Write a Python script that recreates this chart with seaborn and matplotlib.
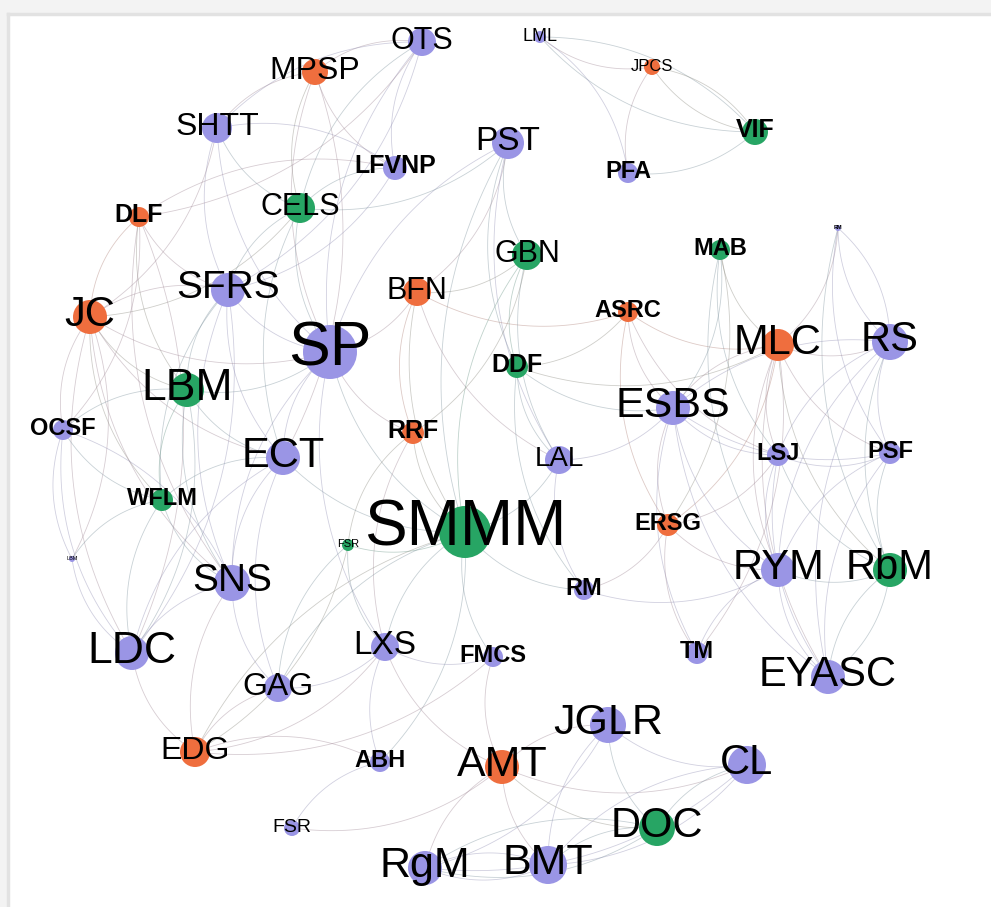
import numpy as np
import pandas as pd
import matplotlib.pyplot as plt
import seaborn as sns
from matplotlib.collections import LineCollection

# ---------------------------------------------------
# data: nodes (pixel layout of the network), groups, sizes, labels
# ---------------------------------------------------
names = ['OTS', 'MPSP', 'SHTT', 'LFVNP', 'CELS', 'DLF', 'SFRS', 'JC', 'SP', 'LBM',
         'OCSF', 'BFN', 'RRF', 'ECT', 'PST', 'LML', 'JPCS', 'VIF', 'PFA', 'GBN',
         'MAB', 'RM2', 'ASRC', 'MLC', 'RS', 'DDF', 'ESBS', 'LAL', 'SMMM', 'FSR2',
         'RM', 'ERSG', 'LSJ', 'PSF', 'RYM', 'RbM', 'TM', 'EYASC', 'WFLM', 'LBM2',
         'SNS', 'LDC', 'GAG', 'LXS', 'EDG', 'ABH', 'FSR', 'RgM', 'FMCS', 'AMT',
         'JGLR', 'CL', 'DOC', 'BMT']
labels = ['OTS', 'MPSP', 'SHTT', 'LFVNP', 'CELS', 'DLF', 'SFRS', 'JC', 'SP', 'LBM',
          'OCSF', 'BFN', 'RRF', 'ECT', 'PST', 'LML', 'JPCS', 'VIF', 'PFA', 'GBN',
          'MAB', 'RM', 'ASRC', 'MLC', 'RS', 'DDF', 'ESBS', 'LAL', 'SMMM', 'FSR',
          'RM', 'ERSG', 'LSJ', 'PSF', 'RYM', 'RbM', 'TM', 'EYASC', 'WFLM', 'LBM',
          'SNS', 'LDC', 'GAG', 'LXS', 'EDG', 'ABH', 'FSR', 'RgM', 'FMCS', 'AMT',
          'JGLR', 'CL', 'DOC', 'BMT']
xs = [422, 315, 217, 395, 300, 139, 228, 90, 330, 187,
      63, 417, 413, 283, 508, 540, 652, 755, 628, 527,
      720, 838, 628, 778, 890, 517, 673, 559, 465, 348,
      584, 668, 778, 890, 778, 890, 697, 828, 162, 72,
      232, 132, 278, 385, 195, 380, 292, 425, 493, 502,
      608, 747, 657, 548]
ys = [42, 72, 128, 168, 208, 217, 290, 317, 352, 390,
      430, 292, 433, 458, 143, 37, 67, 132, 173, 255,
      250, 228, 312, 345, 342, 367, 408, 460, 532, 545,
      590, 525, 455, 453, 570, 570, 653, 677, 500, 559,
      583, 653, 688, 647, 752, 762, 828, 868, 657, 767,
      725, 765, 828, 865]
groups = ['p', 'o', 'p', 'p', 'g', 'o', 'p', 'o', 'p', 'g',
          'p', 'o', 'o', 'p', 'p', 'p', 'o', 'g', 'p', 'g',
          'g', 'p', 'o', 'o', 'p', 'g', 'p', 'p', 'g', 'g',
          'p', 'o', 'p', 'p', 'p', 'g', 'p', 'p', 'g', 'p',
          'p', 'p', 'p', 'p', 'o', 'p', 'p', 'p', 'p', 'o',
          'p', 'p', 'g', 'p']
radius = [14, 13, 15, 12, 15, 10, 17, 17, 27, 17,
          10, 14, 11, 17, 16, 6, 8, 13, 10, 15,
          10, 3, 10, 16, 18, 11, 17, 14, 26, 6,
          10, 11, 11, 11, 17, 17, 11, 17, 11, 3,
          18, 17, 14, 14, 15, 10, 8, 17, 10, 17,
          18, 19, 18, 19]
font_size = [22, 23, 23, 18, 22, 18, 28, 30, 45, 32,
             17, 22, 18, 30, 24, 13, 12, 18, 17, 22,
             17, 4, 17, 30, 30, 18, 31, 20, 46, 8,
             17, 17, 17, 17, 30, 30, 17, 30, 17, 4,
             28, 32, 23, 24, 23, 17, 14, 31, 17, 31,
             31, 30, 30, 31]
bold_labels = ['LFVNP', 'DLF', 'OCSF', 'RRF', 'VIF', 'PFA', 'MAB', 'ASRC', 'DDF',
               'RM', 'ERSG', 'LSJ', 'PSF', 'TM', 'WFLM', 'ABH', 'FMCS']

edges = [
    ('OTS', 'MPSP'), ('OTS', 'SHTT'), ('OTS', 'CELS'), ('OTS', 'LFVNP'), ('OTS', 'SP'), ('SFRS', 'OTS'),
    ('MPSP', 'SHTT'), ('MPSP', 'CELS'), ('MPSP', 'SP'), ('ECT', 'MPSP'), ('MPSP', 'LFVNP'),
    ('SHTT', 'CELS'), ('SHTT', 'SFRS'), ('SHTT', 'SP'), ('LFVNP', 'SHTT'),
    ('LFVNP', 'CELS'), ('LFVNP', 'DLF'), ('SFRS', 'LFVNP'),
    ('CELS', 'SP'), ('CELS', 'SFRS'), ('CELS', 'ECT'), ('JC', 'CELS'),
    ('DLF', 'JC'), ('DLF', 'SFRS'), ('DLF', 'LBM'), ('OCSF', 'DLF'), ('DLF', 'SNS'),
    ('DLF', 'OTS'), ('JC', 'SHTT'), ('LDC', 'DLF'), ('LBM2', 'JC'),
    ('SFRS', 'JC'), ('SFRS', 'LBM'), ('SFRS', 'ECT'), ('SFRS', 'SNS'), ('LDC', 'SFRS'), ('SFRS', 'SP'), ('SFRS', 'WFLM'),
    ('JC', 'LBM'), ('JC', 'OCSF'), ('JC', 'ECT'), ('JC', 'WFLM'), ('JC', 'LDC'), ('JC', 'SNS'), ('JC', 'SP'),
    ('LBM', 'ECT'), ('LBM', 'OCSF'), ('LBM', 'WFLM'), ('LBM', 'SNS'), ('LDC', 'LBM'), ('LBM', 'SP'),
    ('OCSF', 'WFLM'), ('OCSF', 'LDC'), ('OCSF', 'LBM2'), ('SNS', 'OCSF'),
    ('ECT', 'SNS'), ('ECT', 'WFLM'), ('ECT', 'LDC'), ('SP', 'ECT'), ('ECT', 'GAG'),
    ('WFLM', 'SNS'), ('WFLM', 'LDC'), ('WFLM', 'LBM2'),
    ('SNS', 'LDC'), ('SNS', 'EDG'), ('SNS', 'GAG'),
    ('LBM2', 'LDC'), ('LDC', 'EDG'),
    ('SP', 'BFN'), ('SP', 'RRF'), ('SP', 'SMMM'), ('SP', 'LXS'), ('PST', 'SP'), ('SP', 'SNS'),
    ('PST', 'GBN'), ('PST', 'DDF'), ('BFN', 'PST'), ('PST', 'LAL'), ('PST', 'SMMM'), ('CELS', 'PST'),
    ('BFN', 'GBN'), ('BFN', 'RRF'), ('BFN', 'SMMM'), ('BFN', 'LAL'), ('BFN', 'ASRC'),
    ('GBN', 'DDF'), ('GBN', 'SMMM'), ('GBN', 'LAL'), ('RRF', 'GBN'),
    ('DDF', 'ASRC'), ('DDF', 'MLC'), ('DDF', 'LAL'), ('DDF', 'RM'), ('DDF', 'ESBS'),
    ('RRF', 'SMMM'), ('RRF', 'LXS'), ('RRF', 'FSR2'),
    ('SMMM', 'LAL'), ('FSR2', 'SMMM'), ('SMMM', 'LXS'), ('SMMM', 'GAG'), ('SMMM', 'EDG'),
    ('ABH', 'SMMM'), ('SMMM', 'FMCS'), ('SMMM', 'RM'), ('ECT', 'SMMM'),
    ('LAL', 'RM'), ('LAL', 'ESBS'),
    ('ASRC', 'MLC'), ('ASRC', 'ESBS'), ('ASRC', 'LSJ'), ('ASRC', 'ERSG'),
    ('MAB', 'MLC'), ('ESBS', 'MAB'), ('MAB', 'RYM'), ('MAB', 'LSJ'), ('ERSG', 'MAB'),
    ('MLC', 'RM2'), ('RM2', 'RS'), ('RM2', 'RbM'), ('RM2', 'PSF'), ('RS', 'RM2'),
    ('MLC', 'RS'), ('MLC', 'ESBS'), ('MLC', 'LSJ'), ('MLC', 'PSF'), ('MLC', 'RYM'), ('MLC', 'RbM'),
    ('MLC', 'EYASC'), ('ERSG', 'MLC'),
    ('RS', 'ESBS'), ('RS', 'LSJ'), ('RS', 'PSF'), ('RS', 'RYM'), ('RS', 'RbM'), ('RS', 'EYASC'),
    ('ESBS', 'LSJ'), ('ESBS', 'PSF'), ('ESBS', 'RYM'), ('ESBS', 'ERSG'), ('ESBS', 'TM'), ('ESBS', 'EYASC'),
    ('LSJ', 'PSF'), ('LSJ', 'RYM'), ('LSJ', 'RbM'), ('LSJ', 'EYASC'), ('ERSG', 'LSJ'),
    ('PSF', 'RYM'), ('PSF', 'RbM'), ('PSF', 'EYASC'),
    ('RYM', 'RbM'), ('RYM', 'EYASC'), ('RM', 'RYM'), ('RYM', 'TM'),
    ('RbM', 'EYASC'), ('EYASC', 'RbM'),
    ('ERSG', 'TM'), ('RM', 'ERSG'), ('ERSG', 'RYM'), ('TM', 'MLC'),
    ('GAG', 'LXS'), ('GAG', 'EDG'), ('EDG', 'LXS'), ('EDG', 'FMCS'), ('LXS', 'ABH'), ('LXS', 'FMCS'),
    ('ABH', 'FSR'), ('FSR2', 'LXS'), ('FSR2', 'GAG'), ('FMCS', 'AMT'), ('FSR', 'AMT'), ('LXS', 'AMT'),
    ('EDG', 'FSR2'), ('ABH', 'EDG'),
    ('JGLR', 'AMT'), ('JGLR', 'CL'), ('JGLR', 'DOC'), ('RgM', 'JGLR'), ('JGLR', 'BMT'),
    ('AMT', 'CL'), ('AMT', 'DOC'), ('AMT', 'RgM'), ('AMT', 'BMT'),
    ('CL', 'DOC'), ('RgM', 'CL'), ('BMT', 'CL'), ('CL', 'BMT'),
    ('DOC', 'RgM'), ('DOC', 'BMT'), ('RgM', 'BMT'), ('BMT', 'RgM'), ('RgM', 'DOC'),
    ('LML', 'JPCS'), ('LML', 'VIF'), ('VIF', 'LML'), ('JPCS', 'VIF'), ('JPCS', 'PFA'),
    ('PFA', 'LML'), ('PFA', 'VIF'), ('VIF', 'JPCS'),
]

palette = {'p': '#9a95e5', 'o': '#ef6e3e', 'g': '#27a564'}

# ---------------------------------------------------
# figure
# ---------------------------------------------------
sns.set_theme(style='white')
plt.rcParams['font.family'] = ['Liberation Sans', 'DejaVu Sans']

nodes = pd.DataFrame({'name': names, 'label': labels, 'x': xs, 'y': ys,
                      'group': groups, 'r': radius, 'fs': font_size})
# marker area in points^2 from pixel radius (dpi 100)
nodes['area'] = (2 * nodes['r'] * 0.72) ** 2
pos = {n: (x, y) for n, x, y in zip(names, xs, ys)}
col = dict(zip(names, groups))

fig = plt.figure(figsize=(9.91, 9.07), dpi=100, facecolor='#f3f3f3')
ax = fig.add_axes([8 / 991, 0, 983 / 991, 893 / 907])
ax.set_facecolor('white')
ax.set_xlim(8, 991)
ax.set_ylim(907, 14)

# curved edges (quadratic bezier, gephi style)
t = np.linspace(0, 1, 40)[:, None]
segs, ecols = [], []
for a, b in edges:
    p0 = np.array(pos[a], dtype=float)
    p2 = np.array(pos[b], dtype=float)
    d = p2 - p0
    c = (p0 + p2) / 2 + 0.22 * np.array([-d[1], d[0]])
    pts = (1 - t) ** 2 * p0 + 2 * (1 - t) * t * c + t ** 2 * p2
    segs.append(pts)
    ca = np.array(plt.matplotlib.colors.to_rgb(palette[col[a]]))
    cb = np.array(plt.matplotlib.colors.to_rgb(palette[col[b]]))
    mix = 0.35 * (ca + cb) / 2 + 0.65 * np.array([0.55, 0.55, 0.6])
    ecols.append((*mix, 0.42))
ax.add_collection(LineCollection(segs, colors=ecols, linewidths=0.6, zorder=1))

sns.scatterplot(data=nodes, x='x', y='y', hue='group', palette=palette,
                size='area', sizes=(nodes['area'].min(), nodes['area'].max()),
                linewidth=0, alpha=1, legend=False, ax=ax, zorder=2)

# labels sit centred on the node, a little above its middle
for _, row in nodes.iterrows():
    ax.text(row['x'], row['y'] + row['fs'] * 0.3, row['label'],
            fontsize=row['fs'], ha='center', va='baseline', color='black',
            fontweight='bold' if row['label'] in bold_labels else 'normal',
            zorder=3)

ax.set_xlim(8, 991)
ax.set_ylim(907, 14)
ax.set_xticks([])
ax.set_yticks([])
ax.set_xlabel('')
ax.set_ylabel('')
for side in ['right', 'bottom']:
    ax.spines[side].set_visible(False)
for side in ['top', 'left']:
    ax.spines[side].set_color('#e2e2e2')
    ax.spines[side].set_linewidth(2.5)

fig.savefig('out.png', dpi=100, facecolor=fig.get_facecolor())
